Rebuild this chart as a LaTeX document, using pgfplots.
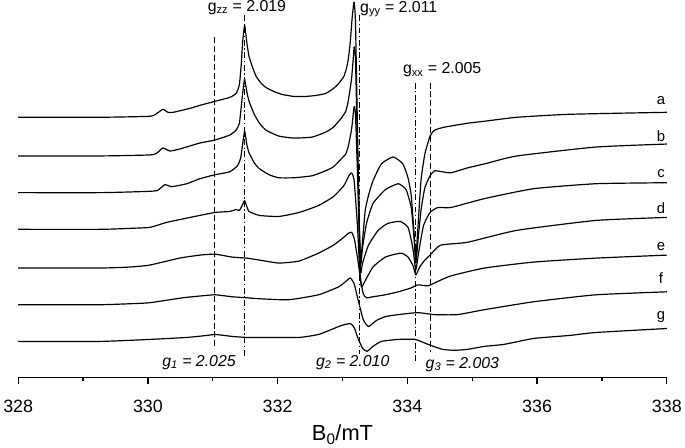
\documentclass[border=0pt]{standalone}
\usepackage{fontspec}
\setmainfont{Liberation Sans}
\usepackage{pgfplots}
\pgfplotsset{compat=1.18}
\begin{document}
\begin{tikzpicture}
\begin{axis}[
  width=654pt, height=383pt, scale only axis,
  xmin=328, xmax=338, ymin=0, ymax=383,
  axis x line*=bottom, axis y line=none, ytick=\empty,
  x axis line style={line width=1.2pt},
  xtick={328,330,...,338}, minor xtick={329,331,...,337},
  tick align=outside, major tick length=7pt, minor tick length=4pt,
  every tick/.style={black, line width=1.2pt},
  xticklabel style={font=\fontsize{18}{18}\selectfont, yshift=-13pt},
  /pgf/number format/assume math mode=true,
  xlabel={B\textsubscript{0}/mT},
  xlabel style={font=\fontsize{22}{22}\selectfont, at={(axis description cs:0.5,0)}, anchor=center, yshift=-58pt},
  clip=false,
  no markers,
  cycle list={{black, solid}},
  every axis plot/.append style={black, solid, line width=1.2pt, line join=round, mark=none, smooth, tension=0.3},
]
% trace a
\addplot table {
328.00 262
329.27 262
330.03 263
330.14 266
330.23 270
330.31 267
330.39 267
330.65 271
330.80 274
331.03 278
331.26 282
331.36 286
331.41 295
331.44 316
331.46 338
331.49 355
331.50 351
331.53 335
331.56 323
331.61 313
331.67 303
331.75 296
331.82 292
331.94 288
332.07 285
332.25 283
332.43 283
332.59 284
332.74 286
332.86 291
332.94 296
333.02 303
333.06 311
333.09 321
333.12 338
333.15 363
333.17 375
333.18 378
333.20 358
333.23 253
333.26 153
333.28 118
333.31 138
333.35 168
333.40 183
333.47 198
333.60 215
333.78 222
333.93 215
334.01 201
334.06 183
334.10 148
334.13 121
334.16 148
334.21 198
334.27 225
334.35 243
334.42 249
334.57 252
334.93 256
335.19 258
335.69 262
336.50 265
338.00 267
};
% trace b
\addplot table {
328.00 223
329.27 223
330.03 224
330.14 226
330.23 231
330.34 228
330.49 230
330.80 236
331.03 239
331.26 244
331.36 249
331.41 256
331.44 273
331.46 286
331.49 301
331.50 297
331.53 286
331.56 278
331.64 265
331.72 256
331.82 249
332.02 243
332.25 241
332.53 242
332.74 247
332.86 252
332.98 261
333.05 268
333.09 279
333.14 301
333.17 325
333.18 333
333.20 321
333.23 233
333.26 148
333.28 113
333.31 131
333.37 155
333.47 175
333.66 189
333.86 195
333.98 189
334.06 171
334.10 143
334.13 115
334.16 135
334.21 168
334.27 191
334.35 203
334.42 208
334.54 207
334.67 206
334.93 211
335.19 215
335.69 223
336.91 232
338.00 235
};
% trace c
\addplot table {
328.00 186
329.27 186
329.88 187
330.14 188
330.26 194
330.37 192
330.60 195
330.80 200
331.03 204
331.26 207
331.38 213
331.43 221
331.46 235
331.49 248
331.50 245
331.53 233
331.56 226
331.64 216
331.72 210
331.87 204
332.02 201
332.25 201
332.53 203
332.74 208
332.86 212
332.98 220
333.05 225
333.09 233
333.14 250
333.17 268
333.18 273
333.20 265
333.23 208
333.26 138
333.28 105
333.31 115
333.40 133
333.55 148
333.70 155
333.89 157
334.01 151
334.07 135
334.10 123
334.13 108
334.18 128
334.25 153
334.35 166
334.47 171
334.67 171
335.19 180
335.95 190
336.91 195
338.00 196
};
% trace d
\addplot table {
328.00 149
329.27 149
329.73 150
330.03 151
330.29 156
330.65 161
331.03 166
331.26 167
331.36 169
331.41 168
331.46 174
331.49 178
331.52 173
331.56 167
331.72 163
332.02 162
332.33 166
332.63 173
332.86 182
333.02 193
333.09 202
333.14 206
333.18 198
333.23 153
333.26 115
333.29 91
333.34 96
333.47 111
333.66 121
333.90 125
334.01 121
334.09 112
334.13 103
334.19 111
334.27 118
334.35 123
334.51 133
334.93 136
335.69 148
336.91 158
338.00 161
};
% trace e
\addplot table {
328.00 110
329.27 110
329.73 111
330.03 113
330.49 120
330.80 123
331.03 124
331.30 121
331.52 120
331.72 118
332.02 115
332.33 117
332.63 125
332.86 133
333.02 141
333.09 145
333.14 146
333.18 140
333.23 121
333.28 98
333.32 84
333.37 80
333.47 81
333.66 83
333.86 86
334.06 90
334.16 93
334.32 92
334.42 95
334.67 102
335.19 110
335.95 116
336.91 120
338.00 123
};
% trace f
\addplot table {
328.00 73
329.27 73
329.73 74
330.03 75
330.54 80
330.84 82
331.04 83
331.30 81
331.52 80
331.72 79
332.17 78
332.63 83
332.94 91
333.06 97
333.12 100
333.18 94
333.24 78
333.32 58
333.40 51
333.52 57
333.66 61
333.86 63
334.16 65
334.42 63
334.77 63
335.19 68
335.95 76
336.91 83
338.00 86
};
% trace g
\addplot table {
328.00 36
329.27 36
330.03 38
330.60 40
330.91 42
331.04 43
331.30 41
331.52 40
331.72 40
332.33 40
332.63 43
332.83 48
332.98 52
333.12 54
333.18 50
333.24 39
333.31 29
333.38 26
333.47 31
333.60 36
333.86 38
334.12 38
334.32 33
334.54 28
334.73 27
334.93 28
335.19 31
335.49 33
335.95 39
336.50 42
336.91 45
338.00 49
};
% guide lines
\draw[line width=1pt, dash pattern=on 6pt off 3pt] (axis cs:331.03,343) -- (axis cs:331.03,28);
\draw[line width=1pt, dash pattern=on 6pt off 2.5pt on 1.5pt off 2.5pt] (axis cs:331.49,365) -- (axis cs:331.49,20);
\draw[line width=1pt, dash pattern=on 6pt off 2.5pt on 1.5pt off 2.5pt] (axis cs:333.26,365) -- (axis cs:333.26,23);
\draw[line width=1pt, dash pattern=on 6pt off 2.5pt on 1.5pt off 2.5pt] (axis cs:334.13,297) -- (axis cs:334.13,16);
\draw[line width=1pt, dash pattern=on 6pt off 3pt] (axis cs:334.35,297) -- (axis cs:334.35,25);
% g labels
\node[anchor=west, inner sep=0pt, font=\fontsize{16}{16}\selectfont] at (axis cs:330.92,373) {g\textsubscript{zz} = 2.019};
\node[anchor=west, inner sep=0pt, font=\fontsize{16}{16}\selectfont] at (axis cs:333.27,371) {g\textsubscript{yy} = 2.011};
\node[anchor=west, inner sep=0pt, font=\fontsize{16}{16}\selectfont] at (axis cs:333.93,310) {g\textsubscript{xx} = 2.005};
\node[anchor=west, inner sep=0pt, font=\itshape\fontsize{16}{16}\selectfont] at (axis cs:330.22,15) {g\textsubscript{1} = 2.025};
\node[anchor=west, inner sep=0pt, font=\itshape\fontsize{16}{16}\selectfont] at (axis cs:332.59,15) {g\textsubscript{2} = 2.010};
\node[anchor=west, inner sep=0pt, font=\itshape\fontsize{16}{16}\selectfont] at (axis cs:334.28,13) {g\textsubscript{3} = 2.003};
% trace letters
\node[anchor=base, inner sep=0pt, font=\fontsize{15}{15}\selectfont] at (axis cs:337.91,275) {a};
\node[anchor=base, inner sep=0pt, font=\fontsize{15}{15}\selectfont] at (axis cs:337.91,238) {b};
\node[anchor=base, inner sep=0pt, font=\fontsize{15}{15}\selectfont] at (axis cs:337.91,201) {c};
\node[anchor=base, inner sep=0pt, font=\fontsize{15}{15}\selectfont] at (axis cs:337.91,165) {d};
\node[anchor=base, inner sep=0pt, font=\fontsize{15}{15}\selectfont] at (axis cs:337.91,128) {e};
\node[anchor=base, inner sep=0pt, font=\fontsize{15}{15}\selectfont] at (axis cs:337.91,94) {f};
\node[anchor=base, inner sep=0pt, font=\fontsize{15}{15}\selectfont] at (axis cs:337.91,58) {g};
\end{axis}
\end{tikzpicture}
\end{document}
